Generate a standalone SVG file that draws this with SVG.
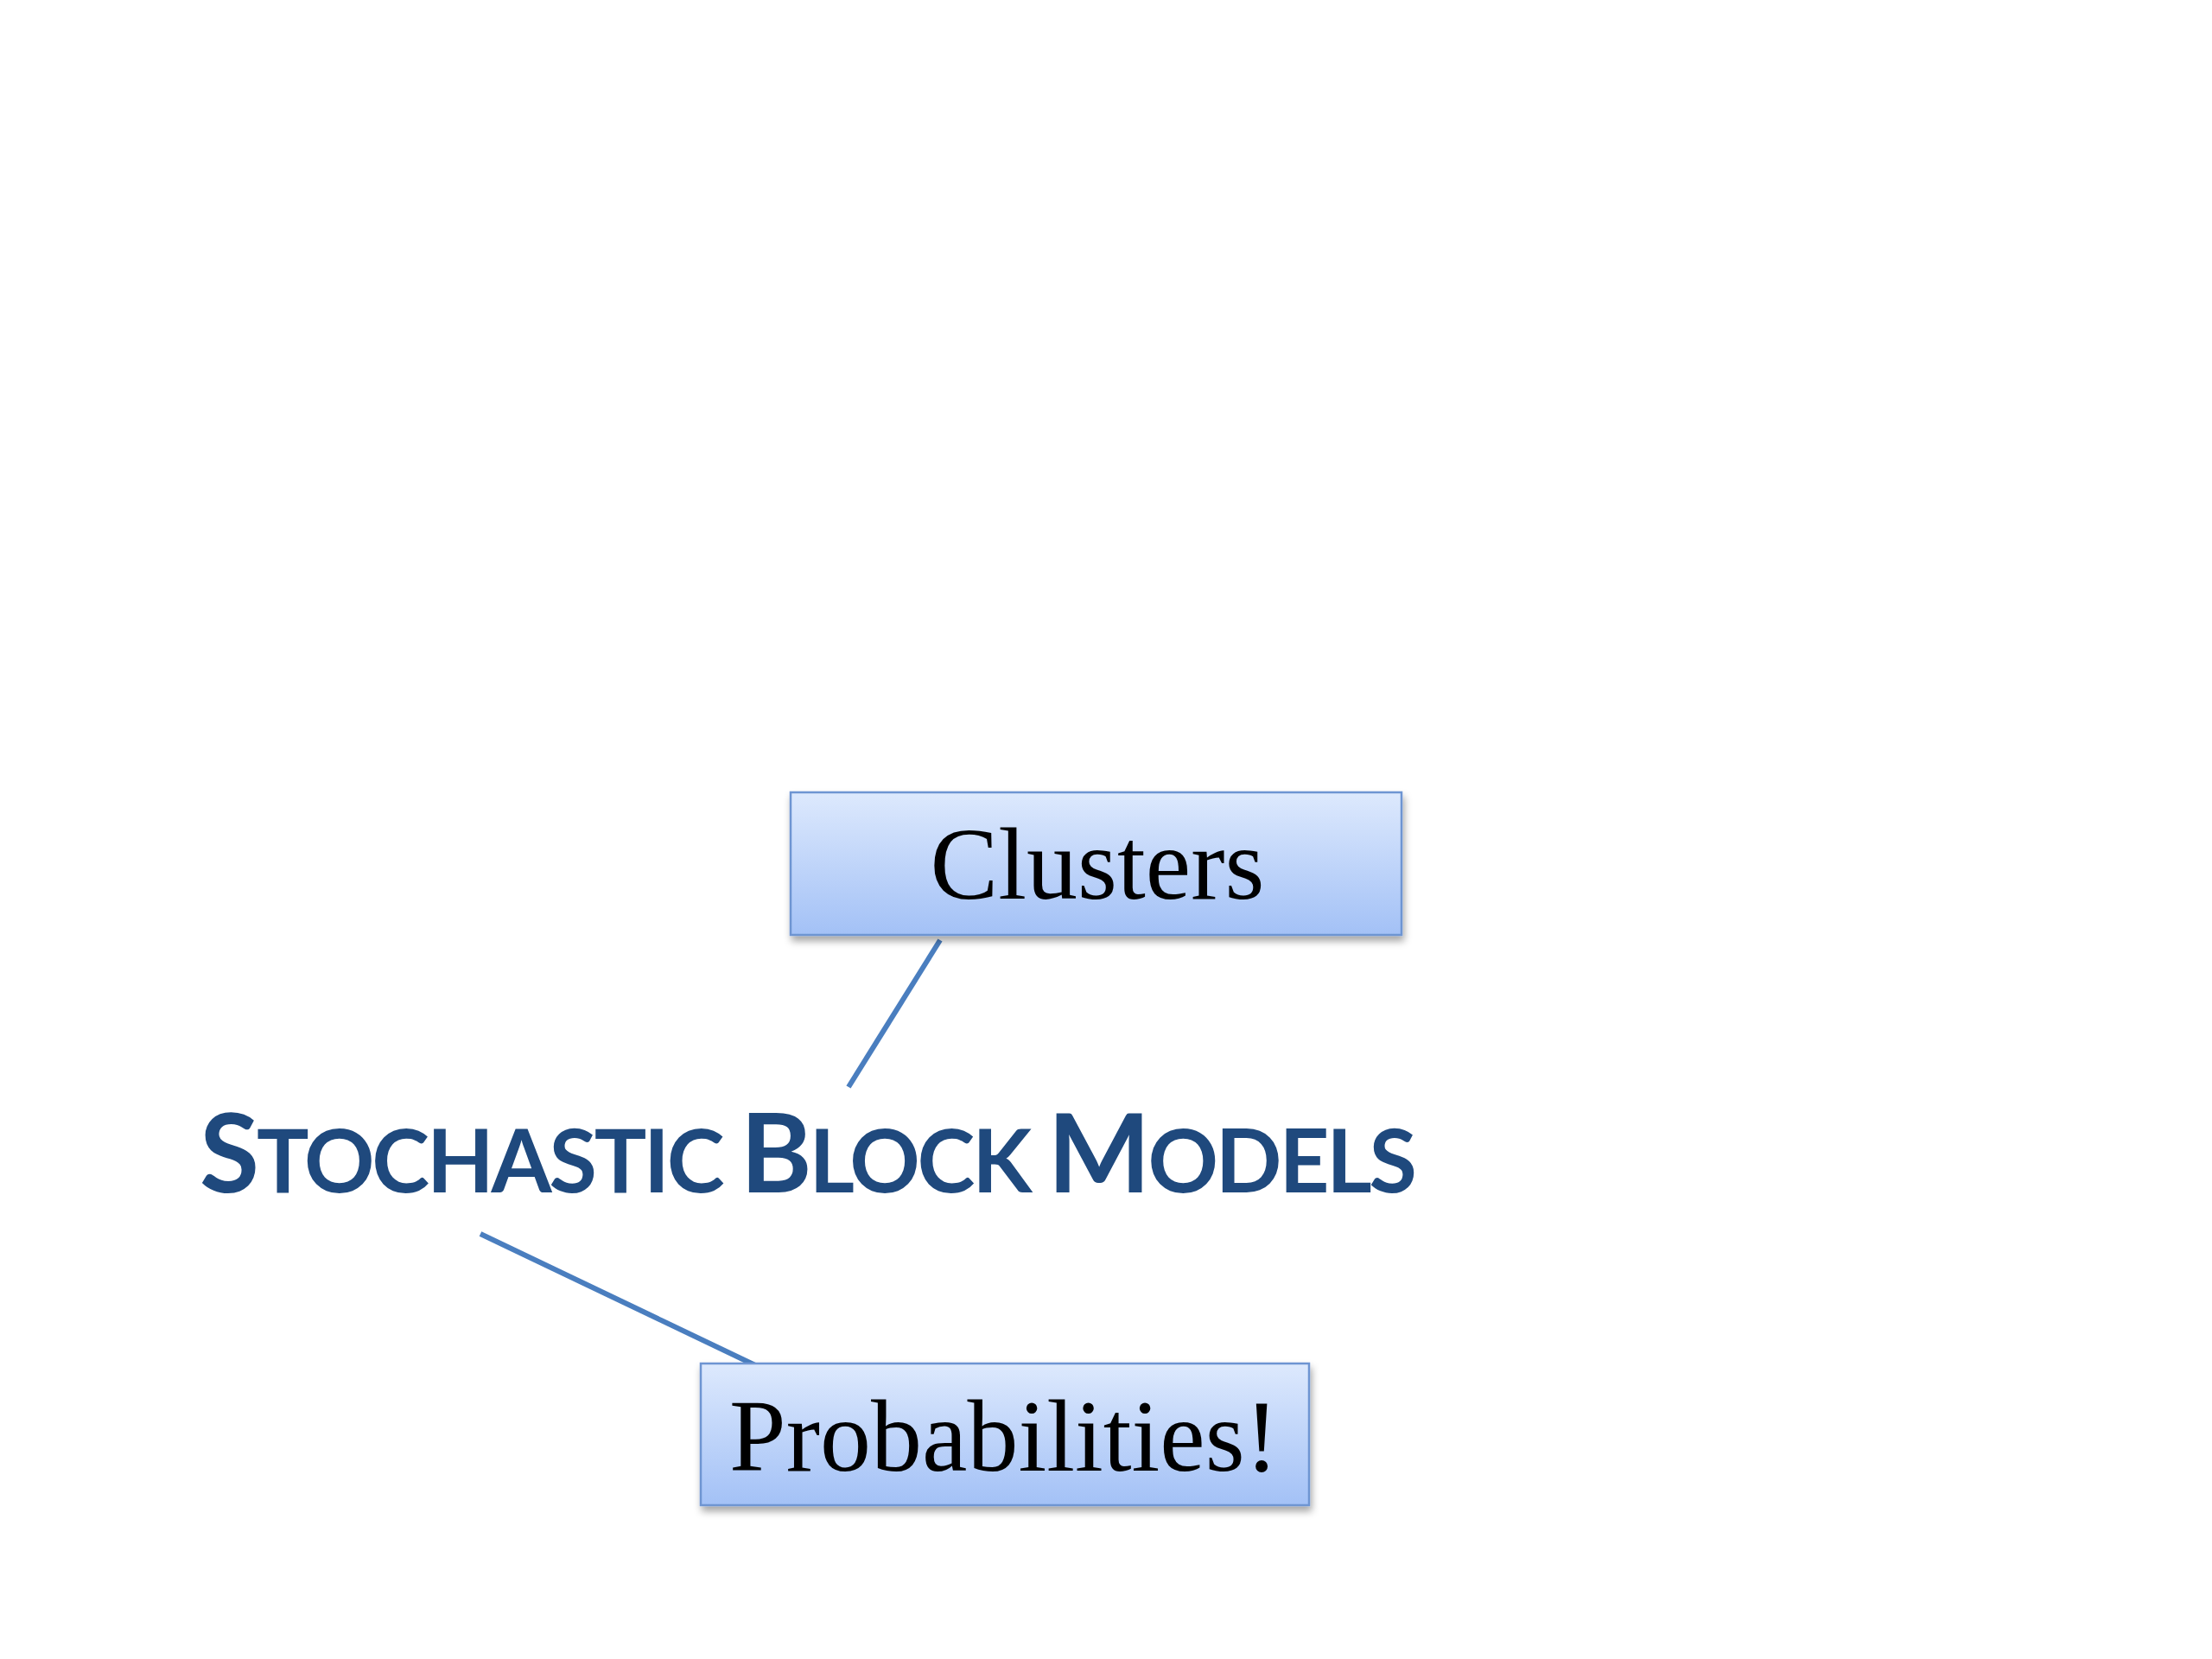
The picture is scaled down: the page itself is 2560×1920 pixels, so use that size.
<svg xmlns="http://www.w3.org/2000/svg" width="2560" height="1920" viewBox="0 0 2560 1920">
<defs>
<linearGradient id="boxGrad" x1="0" y1="0" x2="0" y2="1">
<stop offset="0" stop-color="#dde9fd"/>
<stop offset="1" stop-color="#a3c1f6"/>
</linearGradient>
<filter id="shadow" x="-10%" y="-20%" width="120%" height="150%">
<feDropShadow dx="2" dy="6" stdDeviation="4" flood-color="#000" flood-opacity="0.35"/>
</filter>
</defs>
<style>
.box{fill:url(#boxGrad);stroke:#6e95d2;stroke-width:2.5;filter:url(#shadow);}
.label{font-family:"Liberation Serif","Times New Roman",serif;font-size:118px;fill:#000;text-anchor:middle;}
.title{font-family:"Lato","Open Sans","Liberation Sans",sans-serif;font-weight:bold;fill:#1f497d;}
.big{font-size:126px;}
.small{font-size:101px;}
.conn{stroke:#4a7ebf;stroke-width:6;fill:none;}
</style>
<rect width="2560" height="1920" fill="#fff"/>
<g id="connectors">
<line class="conn" x1="1088" y1="1088" x2="982" y2="1258"/>
<line class="conn" x1="556" y1="1428" x2="874" y2="1580"/>
</g>
<g id="clusters">
<rect class="box" x="915" y="917" width="707" height="165"/>
<text class="label" x="1270" y="1040">Clusters</text>
</g>
<g id="title">
<text class="title" x="231" y="1380" textLength="1409" lengthAdjust="spacing"><tspan class="big">S</tspan><tspan class="small">TOCHASTIC </tspan><tspan class="big">B</tspan><tspan class="small">LOCK </tspan><tspan class="big">M</tspan><tspan class="small">ODELS</tspan></text>
</g>
<g id="probabilities">
<rect class="box" x="811" y="1578" width="704" height="164"/>
<text class="label" x="1162" y="1702">Probabilities!</text>
</g>
</svg>
